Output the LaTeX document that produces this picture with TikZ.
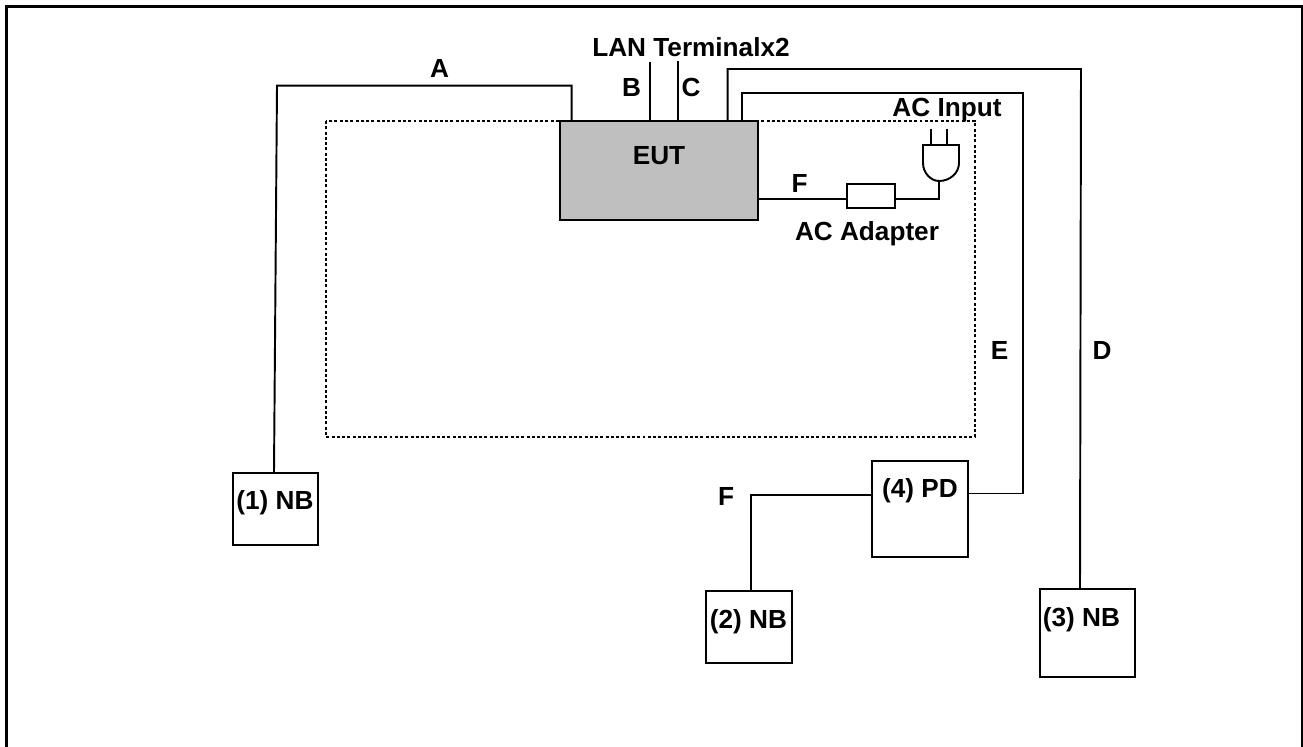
\documentclass[tikz,border=0pt]{standalone}
\usepackage{fontspec}
\setmainfont{Liberation Sans}
\tikzset{
	wire/.style={line width=1.1pt},
	devbox/.style={draw, line width=1.1pt, fill=white, inner sep=0pt},
	lbl/.style={font=\bfseries\fontsize{14.9}{16}\selectfont, inner sep=0pt, anchor=base},
}
\begin{document}
\begin{tikzpicture}[x=0.02cm, y=-0.02cm]
	\useasboundingbox (0, 0) rectangle (1303, 747);
	
	% outer frame, open at the bottom
	\draw[line width=1.55pt] (6.3, 747) -- (6.3, 6.3) -- (1302, 6.3) -- (1302, 747);
	
	% test table
	\draw[line width=1.6pt, dash pattern=on 1.7pt off 1.3pt] (326, 121) rectangle (975, 437);
	
	\node[devbox, fill=black!25, minimum width=198*0.02cm, minimum height=99*0.02cm] (eut) at (659, 170.5) {};
	\node[devbox, minimum width=85*0.02cm, minimum height=72*0.02cm] (nb1) at (275.5, 509) {};
	\node[devbox, minimum width=86*0.02cm, minimum height=72*0.02cm] (nb2) at (749, 627) {};
	\node[devbox, minimum width=95*0.02cm, minimum height=88*0.02cm] (nb3) at (1087.5, 633) {};
	\node[devbox, minimum width=96*0.02cm, minimum height=96*0.02cm] (pd) at (920, 509) {};
	\node[devbox, minimum width=48*0.02cm, minimum height=24*0.02cm] (adapter) at (871, 196) {};
	
	\coordinate (lanB) at (650, 62);
	\coordinate (lanC) at (678, 60.7);
	\coordinate (plugL) at (923, 145);
	\coordinate (plugR) at (959, 145);
	\coordinate (plugB) at (939, 181);
	
	% cables
	\draw[wire] (eut.north -| 571.7, 0) -- (571.7, 85.7) -- (277, 85.7) -- (nb1.north -| 274, 0);
	\draw[wire] (eut.north -| lanB) -- (lanB);
	\draw[wire] (eut.north -| lanC) -- (lanC);
	\draw[wire] (eut.north -| 727.7, 0) -- (727.7, 69) -- (1081, 69) -- (nb3.north -| 1080, 0);
	\draw[wire] (eut.north -| 741.7, 0) -- (741.7, 92.7) -- (1023, 92.7) -- (1023, 493.5) -- (pd.east |- 0, 493.5);
	\draw[wire] (pd.west |- 0, 495) -- (750.6, 495) -- (nb2.north -| 750.6, 0);
	\draw[wire] (eut.east |- 0, 199) -- (adapter.west |- 0, 199);
	\draw[wire] (adapter.east |- 0, 199) -- (939, 199) -- (plugB);
	
	% plug
	\draw[wire] (plugL) -- (plugR) -- (959, 163) .. controls (959, 173) and (950, 181) .. (plugB) .. controls (931, 181) and (923, 173) .. (923, 163) -- cycle;
	\draw[wire] (930.7, 128.7) -- (930.7, 145);
	\draw[wire] (946.7, 128.7) -- (946.7, 145);
	
	\node[lbl] at (439.5, 77) {A};
	\node[lbl] at (631.5, 96) {B};
	\node[lbl] at (691, 96) {C};
	\node[lbl] at (1102, 359) {D};
	\node[lbl] at (999.5, 359) {E};
	\node[lbl] at (799.5, 192) {F};
	\node[lbl] at (726, 505) {F};
	\node[lbl] at (659, 164) {EUT};
	\node[lbl] at (691, 56) {LAN Terminalx2};
	\node[lbl] at (947, 116) {AC Input};
	\node[lbl] at (867, 240) {AC Adapter};
	\node[lbl] at (275, 509) {(1) NB};
	\node[lbl] at (748.5, 628) {(2) NB};
	\node[lbl] at (1081.5, 626.5) {(3) NB};
	\node[lbl] at (920, 497.5) {(4) PD};
\end{tikzpicture}
\end{document}
